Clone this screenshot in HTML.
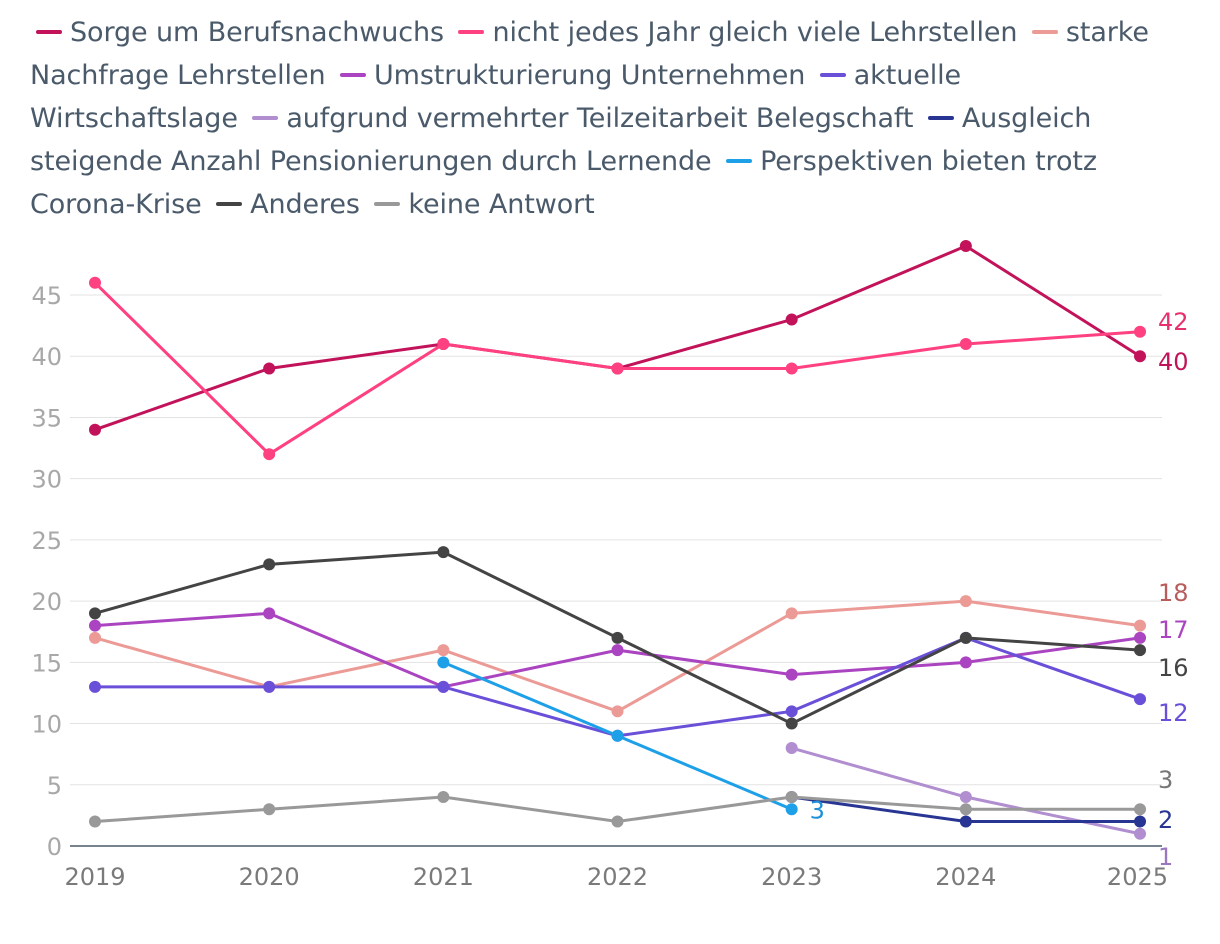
<!DOCTYPE html>
<html><head><meta charset="utf-8"><style>
body{margin:0;background:#fff;width:1220px;height:944px;overflow:hidden;font-family:"Liberation Sans",sans-serif}
#legend{position:absolute;left:30px;top:11px;width:1200px;font-family:"DejaVu Sans",sans-serif;font-size:27px;letter-spacing:-0.1px;line-height:43px;color:#4a5a6a;white-space:nowrap}
.sw{display:inline-block;width:26px;height:4px;border-radius:2px;vertical-align:middle;margin:0 8px 4px 6px}
</style></head><body>
<div id="legend">
<div><span><span class="sw" style="background:#c2135a"></span>Sorge um Berufsnachwuchs</span> <span><span class="sw" style="background:#ff4081"></span>nicht jedes Jahr gleich viele Lehrstellen</span> <span><span class="sw" style="background:#ec9a96"></span>starke</span></div>
<div><span>Nachfrage Lehrstellen</span> <span><span class="sw" style="background:#aa44c0"></span>Umstrukturierung Unternehmen</span> <span><span class="sw" style="background:#6a4fd8"></span>aktuelle</span></div>
<div><span>Wirtschaftslage</span> <span><span class="sw" style="background:#b08ecf"></span>aufgrund vermehrter Teilzeitarbeit Belegschaft</span> <span><span class="sw" style="background:#283593"></span>Ausgleich</span></div>
<div><span>steigende Anzahl Pensionierungen durch Lernende</span> <span><span class="sw" style="background:#1ea0e8"></span>Perspektiven bieten trotz</span></div>
<div><span>Corona-Krise</span> <span><span class="sw" style="background:#444444"></span>Anderes</span> <span><span class="sw" style="background:#999999"></span>keine Antwort</span></div>
</div>
<svg id="chart" width="1220" height="944" style="position:absolute;left:0;top:0;pointer-events:none"></svg>
<script>
const years=["2019","2020","2021","2022","2023","2024","2025"];
const yTicks=[0,5,10,15,20,25,30,35,40,45];
const colors=["#c2135a","#ff4081","#ec9a96","#aa44c0","#6a4fd8","#b08ecf","#283593","#1ea0e8","#444444","#999999"];
const labelColors=["#c2135a","#e8306e","#b85c5c","#aa44c0","#6a4fd8","#9a78c0","#283593","#1e90d8","#444444","#777777"];
const sSorge=[34,39,41,39,43,49,40];
const sNicht=[46,32,41,39,39,41,42];
const sStarke=[17,13,16,11,19,20,18];
const sUmstr=[18,19,13,16,14,15,17];
const sWirt=[13,13,13,9,11,17,12];
const sTeil=[null,null,null,null,8,4,1];
const sAusg=[null,null,null,null,4,2,2];
const sPersp=[null,null,15,9,3,null,null];
const sAnd=[19,23,24,17,10,17,16];
const sKeine=[2,3,4,2,4,3,3];
const series=[sSorge,sNicht,sStarke,sUmstr,sWirt,sTeil,sAusg,sPersp,sAnd,sKeine];
const labelY={0:370,1:330,2:601,3:638,4:721,5:865,6:828,8:676,9:788};
const NS="http://www.w3.org/2000/svg";
const svg=document.getElementById('chart');
const x=i=>95+i*174.17;
const y=v=>846-v*12.244;
function mk(t,a,p){const e=document.createElementNS(NS,t);for(const k in a)e.setAttribute(k,a[k]);(p||svg).appendChild(e);return e;}
yTicks.forEach(v=>{
 if(v>0){const g=mk('line',{x1:70,x2:1162,y1:y(v),y2:y(v),stroke:'#e3e3e3','stroke-width':1});
 
 }
 const t=mk('text',{x:62,y:y(v)+9,'text-anchor':'end','font-size':24,fill:'#a8a8a8','font-family':'DejaVu Sans'});t.textContent=v;
 
 
});
const ax=mk('line',{x1:70,x2:1162,y1:846,y2:846,stroke:'#4a5a6a','stroke-width':1.5});


years.forEach((yr,i)=>{const t=mk('text',{x:x(i),y:885,'text-anchor':i==6?'end':'middle','font-size':24,fill:'#7a7a7a','font-family':'DejaVu Sans'});
 if(i==6)t.setAttribute('x',1168);
 t.textContent=yr;
 
 });
series.forEach((s,k)=>{
 let d='';let last=-1;
 s.forEach((v,i)=>{if(v==null)return;d+=(d&&last==i-1?'L':'M')+x(i)+' '+y(v);last=i;});
 const p=mk('path',{d:d,fill:'none',stroke:colors[k],'stroke-width':3});
 
 
 s.forEach((v,i)=>{if(v==null)return;const c=mk('circle',{cx:x(i),cy:y(v),r:6,fill:colors[k]});
  
  });
 let li=-1;s.forEach((v,i)=>{if(v!=null)li=i;});
 const ly=labelY[k]!==undefined&&li==6?labelY[k]:y(s[li])+9;
 const lx=li==6?1158:x(li)+18;
 const t=mk('text',{x:lx,y:ly,'font-size':24,fill:labelColors[k],'font-family':'DejaVu Sans'});t.textContent=s[li];
 
 
});
</script>
</body></html>
